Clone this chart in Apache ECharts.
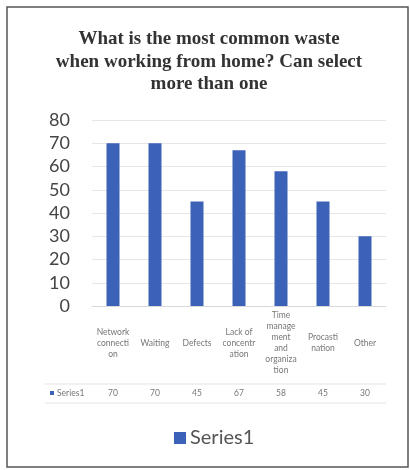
<!DOCTYPE html>
<html>
<head>
<meta charset="utf-8">
<script src="https://cdn.jsdelivr.net/npm/echarts@6/dist/echarts.min.js"></script>
<style>
html,body{margin:0;padding:0;background:#fff;}
#chart{width:410px;height:470px;}
</style>
</head>
<body>
<div id="chart"></div>
<script>
const titleText = "What is the most common waste\nwhen working from home? Can select\nmore than one";
const categories = ["Network\nconnecti\non", "Waiting", "Defects", "Lack of\nconcentr\nation", "Time\nmanage\nment\nand\norganiza\ntion", "Procasti\nnation", "Other"];
const seriesName = "Series1";
const values = [70, 70, 45, 67, 58, 45, 30];
const yTicks = { min: 0, max: 80, interval: 10 };

const chart = echarts.init(document.getElementById('chart'), null, { renderer: 'canvas' });
const barColor = '#3C62B8';
const option = {
  backgroundColor: '#fff',
  animation: false,
  title: {
    text: titleText,
    left: 204,
    textAlign: 'center',
    top: 23,
    padding: 5,
    textStyle: {
      fontFamily: 'Liberation Serif',
      fontWeight: 'bold',
      fontSize: 19,
      lineHeight: 22.5,
      color: '#333'
    }
  },
  legend: {
    data: [seriesName],
    left: 169,
    top: 423,
    icon: 'rect',
    itemWidth: 12,
    itemHeight: 12,
    itemGap: 5,
    textStyle: { fontFamily: 'Lato', fontSize: 20, color: '#555', padding: [0,0,0,-1] }
  },
  grid: { left: 92, right: 24, top: 120, height: 186, containLabel: false },
  xAxis: [
    {
      type: 'category',
      data: categories,
      axisLine: { show: true, lineStyle: { color: '#d9d9d9' } },
      axisTick: { show: false },
      axisLabel: {
        interval: 0,
        verticalAlign: 'middle',
        margin: 37,
        fontFamily: 'Lato',
        fontSize: 8.5,
        lineHeight: 11,
        color: '#777'
      }
    },
    {
      type: 'category',
      position: 'bottom',
      offset: 78,
      data: values.map(String),
      axisLine: { show: false },
      axisTick: { show: false },
      axisLabel: {
        interval: 0,
        verticalAlign: 'middle',
        margin: 9,
        fontFamily: 'Lato',
        fontSize: 8.5,
        color: '#777'
      }
    }
  ],
  yAxis: {
    type: 'value',
    min: yTicks.min,
    max: yTicks.max,
    interval: yTicks.interval,
    axisLine: { show: false },
    axisTick: { show: false },
    splitLine: { lineStyle: { color: '#e6e6e6' } },
    axisLabel: { margin: 22, fontFamily: 'Lato', fontSize: 18, color: '#444' }
  },
  series: [{
    name: seriesName,
    type: 'bar',
    data: values,
    barWidth: 13,
    itemStyle: { color: barColor }
  }],
  graphic: [
    { type: 'rect', shape: { x: 7, y: 7, width: 401, height: 460 }, style: { fill: 'none', stroke: '#555', lineWidth: 1.5 } },
    { type: 'line', shape: { x1: 45, y1: 384, x2: 386, y2: 384 }, style: { stroke: '#e3e3e3', lineWidth: 1 } },
    { type: 'line', shape: { x1: 45, y1: 403, x2: 386, y2: 403 }, style: { stroke: '#e3e3e3', lineWidth: 1 } },
    { type: 'rect', shape: { x: 50, y: 391, width: 4, height: 4 }, style: { fill: barColor } },
    { type: 'text', x: 57, y: 393, style: { text: seriesName, fontFamily: 'Lato', fontSize: 8.5, fill: '#777', verticalAlign: 'middle' } }
  ]
};
chart.setOption(option);
</script>
</body>
</html>
